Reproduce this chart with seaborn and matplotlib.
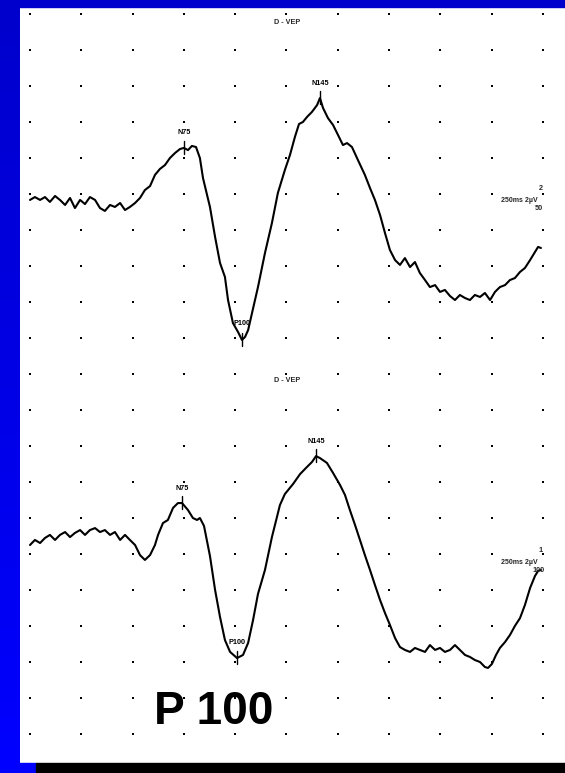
import numpy as np
import pandas as pd
import matplotlib
matplotlib.use("Agg")
import matplotlib.pyplot as plt
import seaborn as sns
from matplotlib.patches import Rectangle

sns.set_theme(style="white")
plt.rcParams['font.family'] = ['Liberation Sans', 'DejaVu Sans']

# ---------------- data ----------------
grid_ms = [0, 25, 50, 75, 100, 125, 150, 175, 200, 225, 250]
grid_rows = list(range(21))

top_ms = [0, 2.4, 4.9, 7.3, 9.7, 12.2, 14.6, 17.1, 19.5, 21.9, 24.4, 26.8, 29.2, 31.7, 34.1,
          36.5, 39.0, 41.4, 43.9, 46.3, 48.7, 51.2, 53.6, 56.0, 58.5, 60.9, 63.3, 65.8, 68.2,
          70.7, 73.1, 75.0, 77.0, 78.9, 80.9, 82.8, 84.3, 86.3, 87.7, 90.2, 92.6, 95.0, 96.5,
          98.9, 101.4, 103.3, 104.8, 106.3, 108.2, 111.1, 114.5, 117.9, 120.8, 124.2, 126.7,
          129.1, 131.1, 133.0, 135.0, 137.4, 139.9, 141.3, 142.8, 145.2, 147.7, 150.1, 152.5,
          154.5, 156.9, 159.8, 163.2, 165.7, 168.1, 170.6, 173.0, 175.4, 177.9, 180.3, 182.7,
          185.2, 187.6, 190.0, 192.5, 194.9, 197.4, 199.8, 202.2, 204.7, 207.1, 209.5, 212.0,
          214.4, 216.8, 219.3, 221.7, 224.2, 226.6, 229.0, 231.5, 233.9, 236.3, 238.8, 241.2,
          243.7, 246.1, 247.6, 249.0]
top_uv = [0.33, 0.17, 0.33, 0.17, 0.44, 0.11, 0.33, 0.61, 0.22, 0.78, 0.33, 0.56, 0.17, 0.33, 0.78,
          0.94, 0.61, 0.72, 0.5, 0.89, 0.72, 0.5, 0.22, -0.22, -0.44, -1.06, -1.39, -1.61, -2.0,
          -2.28, -2.5, -2.56, -2.44, -2.67, -2.61, -2.0, -0.89, 0.06, 0.72, 2.39, 3.83, 4.61, 5.89,
          7.17, 7.67, 8.11, 7.94, 7.56, 6.61, 5.17, 3.28, 1.61, -0.06, -1.33, -2.17,
          -3.17, -3.89, -4.0, -4.28, -4.56, -4.94, -5.33, -4.78, -4.22, -3.83, -3.28, -2.72,
          -2.83, -2.61, -1.89, -1.06, -0.33, 0.33, 1.17, 2.17, 3.11, 3.67, 3.94, 3.56,
          4.06, 3.78, 4.39, 4.78, 5.17, 5.06, 5.44, 5.33, 5.67, 5.89, 5.61, 5.78,
          5.89, 5.61, 5.72, 5.5, 5.89, 5.44, 5.17, 5.06, 4.78, 4.67, 4.33, 4.11,
          3.67, 3.22, 2.94, 3.0]

bot_ms = [0, 2.4, 4.9, 7.3, 9.7, 12.2, 14.6, 17.1, 19.5, 21.9, 24.4, 26.8, 29.2, 31.7, 34.1,
          36.5, 39.0, 41.4, 43.9, 46.3, 48.7, 51.2, 53.6, 56.0, 58.5, 60.9, 62.4, 64.8, 67.2,
          69.7, 72.1, 74.1, 77.0, 79.4, 81.4, 82.8, 84.8, 87.7, 90.2, 92.6, 95.0, 97.5, 100.9,
          103.8, 106.3, 108.7, 111.1, 114.5, 117.9, 121.8, 124.2, 128.2, 131.6, 134.5, 137.4,
          139.4, 141.3, 144.7, 147.7, 151.1, 153.5, 155.9, 158.4, 160.8, 163.2, 165.7, 168.1,
          170.6, 173.0, 175.4, 177.9, 180.3, 182.7, 185.2, 187.6, 190.0, 192.5, 194.9, 197.4,
          199.8, 202.2, 204.7, 207.1, 209.5, 212.0, 214.4, 216.8, 219.3, 221.7, 223.2, 225.1,
          227.1, 229.0, 231.5, 233.9, 236.3, 238.8, 241.2, 243.7, 246.1, 247.6, 249.0]
bot_uv = [-0.5, -0.78, -0.61, -0.89, -1.06, -0.78, -1.06, -1.22, -0.94, -1.17, -1.33, -1.06, -1.33,
          -1.44, -1.22, -1.33, -1.06, -1.22, -0.78, -1.06, -0.78, -0.5, 0.06, 0.33, 0.06, -0.5,
          -1.06, -1.72, -1.89, -2.56, -2.83, -2.83, -2.44, -2.0, -1.89, -2.0, -1.56, 0.11, 2.0,
          3.5, 4.78, 5.44, 5.78, 5.61, 4.94, 3.67, 2.22, 0.89, -0.94, -2.72, -3.33, -3.89,
          -4.44, -4.78, -5.11, -5.44, -5.33, -5.06, -4.5, -3.83, -3.28, -2.44, -1.61, -0.78,
          0.06, 0.89, 1.72, 2.56, 3.28, 3.94, 4.67, 5.17, 5.33, 5.44, 5.22, 5.33, 5.44, 5.06,
          5.33, 5.22, 5.44, 5.33, 5.06, 5.33, 5.61, 5.72, 5.89, 6.0, 6.28, 6.33, 6.11, 5.61,
          5.22, 4.89, 4.5, 4.0, 3.56, 2.83, 1.89, 1.22, 0.94, 0.89]

peak_names = ["N75", "P100", "N145"]
top_peak_ms = [75.0, 103.3, 141.3]
bot_peak_ms = [74.1, 100.9, 139.4]

trace_titles = ["D - VEP", "D - VEP"]
scale_label = "250ms 2µV"
trace_ids = ["2", "1"]
trace_counts = ["50", "100"]
big_label = "P 100"

# ---------------- layout helpers ----------------
W, H = 565, 773
UV_PER_DIV = 2.0
top_base_row, bot_base_row = 5, 15
PX_PER_MS = 51.3 / 25.0
PX_PER_ROW = 36.0
X0_PX, Y0_PX = 30.0, 14.0

fig = plt.figure(figsize=(W / 100, H / 100), dpi=100)
fig.patch.set_facecolor("white")
ax = fig.add_axes([0, 0, 1, 1])
ax.set_facecolor("white")
ax.set_xlim(-X0_PX / PX_PER_MS, (W - X0_PX) / PX_PER_MS)
ax.set_ylim((H - Y0_PX) / PX_PER_ROW, -Y0_PX / PX_PER_ROW)
ax.axis("off")

# grid dots
gx, gy = np.meshgrid(grid_ms, grid_rows)
grid_df = pd.DataFrame({"ms": gx.ravel(), "row": gy.ravel()})
sns.scatterplot(data=grid_df, x="ms", y="row", ax=ax, marker="s", s=3.5,
                color="black", linewidth=0, legend=False)

# traces
def draw_trace(ms, uv, base_row, peak_ms):
    rows = base_row + np.array(uv) / UV_PER_DIV
    df = pd.DataFrame({"ms": ms, "row": rows})
    sns.lineplot(data=df, x="ms", y="row", ax=ax, color="black", lw=1.5,
                 estimator=None, sort=False, legend=False)
    for name, pm in zip(peak_names, peak_ms):
        pr = np.interp(pm, ms, rows)
        ax.plot([pm, pm], [pr - 7 / PX_PER_ROW, pr + 6 / PX_PER_ROW], color="black", lw=1.0)
        dy = 15 if name.startswith("N") else 16
        ax.text(pm, pr - dy / PX_PER_ROW, name, ha="center", va="center",
                fontsize=5.2, fontweight="bold", color="black")

draw_trace(top_ms, top_uv, top_base_row, top_peak_ms)
draw_trace(bot_ms, bot_uv, bot_base_row, bot_peak_ms)

def fx(px):
    return px / W

def fy(py):
    return 1 - py / H

# titles and scale annotations
for title, ty in zip(trace_titles, [22, 381]):
    fig.text(fx(287), fy(ty), title, ha="center", va="center", fontsize=5.2, fontweight="bold")
for tid, cnt, yy in zip(trace_ids, trace_counts, [201, 563]):
    fig.text(fx(519), fy(yy), scale_label, ha="center", va="center", fontsize=5, fontweight="bold")
    fig.text(fx(541), fy(yy - 13), tid, ha="center", va="center", fontsize=5.2, fontweight="bold")
    fig.text(fx(539), fy(yy + 7), cnt, ha="center", va="center", fontsize=5.2, fontweight="bold")

fig.text(fx(214), fy(712), big_label, ha="center", va="center", fontsize=33,
         fontweight="bold", color="black")

# frame decoration (blue border, black footer)
grad = np.linspace(0, 1, 256).reshape(-1, 1)
gax = fig.add_axes([0, 10 / H, 20 / W, 1 - 10 / H])
cmap = matplotlib.colors.LinearSegmentedColormap.from_list("b", ["#0000CC", "#0000FF"])
gax.imshow(grad, aspect="auto", cmap=cmap, extent=[0, 1, 1, 0])
gax.axis("off")
fig.add_artist(Rectangle((0, 1 - 7 / H), 1, 7 / H, transform=fig.transFigure,
                         color="#0000CC", zorder=10))
fig.add_artist(Rectangle((0, 0), 36 / W, 10 / H, transform=fig.transFigure,
                         color="#0000FF", zorder=10))
fig.add_artist(Rectangle((36 / W, 0), 1 - 36 / W, 10 / H, transform=fig.transFigure,
                         color="black", zorder=10))

fig.savefig("out.png", dpi=100)
